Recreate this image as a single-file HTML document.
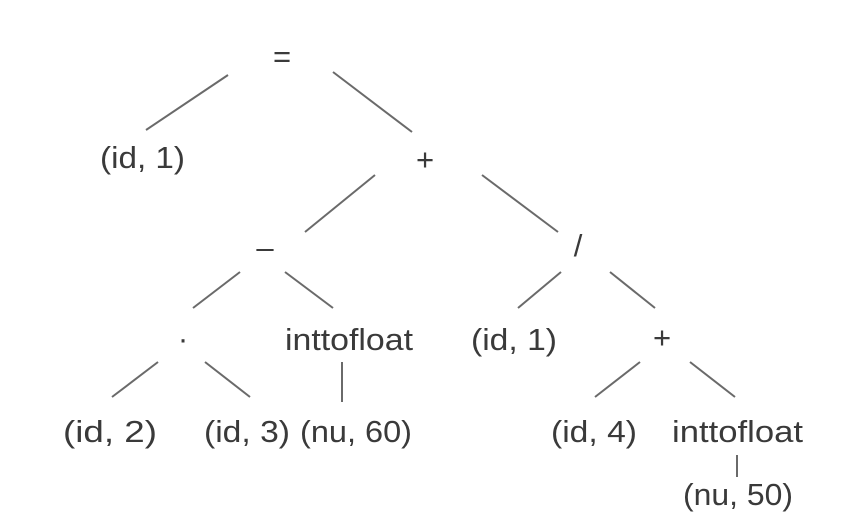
<!DOCTYPE html>
<html><head><meta charset="utf-8"><style>
html,body{margin:0;padding:0;background:#fff;}
svg{display:block;}
text{font-family:"Liberation Sans",Arial,sans-serif;fill:#3a3a3a;font-size:31px;}
line{stroke:#6a6a6a;stroke-width:2;}
</style></head><body>
<svg width="854" height="530" viewBox="0 0 854 530">
<g>
<line x1="228" y1="75" x2="146" y2="130"/>
<line x1="333" y1="72" x2="412" y2="132"/>
<line x1="375" y1="175" x2="305" y2="232"/>
<line x1="482" y1="175" x2="558" y2="232"/>
<line x1="240" y1="272" x2="193" y2="308"/>
<line x1="285" y1="272" x2="333" y2="308"/>
<line x1="561" y1="272" x2="518" y2="308"/>
<line x1="610" y1="272" x2="655" y2="308"/>
<line x1="158" y1="362" x2="112" y2="397"/>
<line x1="205" y1="362" x2="250" y2="397"/>
<line x1="342" y1="362" x2="342" y2="402"/>
<line x1="640" y1="362" x2="595" y2="397"/>
<line x1="690" y1="362" x2="735" y2="397"/>
<line x1="737" y1="455" x2="737" y2="477"/>
</g>
<g>
<text x="282" y="67" text-anchor="middle">=</text>
<text x="100" y="168" textLength="85" lengthAdjust="spacingAndGlyphs">(id, 1)</text>
<text x="425" y="170" text-anchor="middle" font-size="26">+</text>
<text x="265" y="258" text-anchor="middle">–</text>
<text x="578" y="256" text-anchor="middle">/</text>
<text x="183" y="349" text-anchor="middle">·</text>
<text x="285" y="350" textLength="128" lengthAdjust="spacingAndGlyphs">inttofloat</text>
<text x="471" y="350" textLength="86" lengthAdjust="spacingAndGlyphs">(id, 1)</text>
<text x="662" y="348" text-anchor="middle" font-size="26">+</text>
<text x="63" y="442" textLength="94" lengthAdjust="spacingAndGlyphs">(id, 2)</text>
<text x="204" y="442" textLength="86" lengthAdjust="spacingAndGlyphs">(id, 3)</text>
<text x="300" y="442" textLength="112" lengthAdjust="spacingAndGlyphs">(nu, 60)</text>
<text x="551" y="442" textLength="86" lengthAdjust="spacingAndGlyphs">(id, 4)</text>
<text x="672" y="442" textLength="131" lengthAdjust="spacingAndGlyphs">inttofloat</text>
<text x="683" y="505" textLength="110" lengthAdjust="spacingAndGlyphs">(nu, 50)</text>
</g>
</svg>
</body></html>
